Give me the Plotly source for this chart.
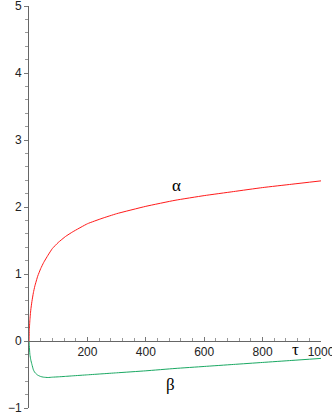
import plotly.graph_objects as go

# values
tau = [0, 1, 3, 6, 10, 15, 20, 30, 40, 50, 65, 80, 100, 125, 150, 200, 250,
       300, 400, 500, 600, 700, 800, 900, 1000]
alpha = [0, 0.16, 0.31, 0.46, 0.59, 0.72, 0.82, 0.97, 1.08, 1.17, 1.28, 1.38,
         1.47, 1.56, 1.63, 1.75, 1.83, 1.90, 2.01, 2.10, 2.17, 2.23, 2.29, 2.34, 2.39]
beta = [0, -0.07, -0.20, -0.28, -0.35, -0.43, -0.47, -0.51, -0.53, -0.54,
        -0.545, -0.54, -0.535, -0.528, -0.52, -0.505, -0.49, -0.475, -0.445,
        -0.41, -0.38, -0.35, -0.32, -0.29, -0.26]

x_ticks = [200, 400, 600, 800, 1000]
y_ticks = [-1, 0, 1, 2, 3, 4, 5]

fig = go.Figure()
fig.add_trace(go.Scatter(x=tau, y=alpha, mode="lines", name="alpha",
                         line=dict(color="#ff1a1a", width=1, shape="spline", smoothing=0.4)))
fig.add_trace(go.Scatter(x=tau, y=beta, mode="lines", name="beta",
                         line=dict(color="#19a862", width=1, shape="spline", smoothing=0.4)))

serif = dict(family="Liberation Serif, DejaVu Serif", size=17, color="black")
for txt, xx, yy in [("α", 505, 2.32), ("β", 485, -0.65), ("τ", 911, -0.13)]:
    fig.add_annotation(x=xx, y=yy, text=txt, showarrow=False, font=serif)

tickfont = dict(family="Liberation Sans, Arial", size=12, color="#222")
fig.update_layout(
    width=332, height=413,
    margin=dict(l=29, r=11, t=6, b=5),
    plot_bgcolor="white", paper_bgcolor="white",
    showlegend=False,
    xaxis=dict(
        range=[0, 1000], anchor="free", position=1 / 6,
        tickvals=x_ticks, ticks="inside", ticklen=4, tickcolor="#777",
        minor=dict(dtick=40, ticks="inside", ticklen=3, tickcolor="#999"),
        showline=True, linecolor="#666", linewidth=1,
        showgrid=False, zeroline=False, tickfont=tickfont, automargin=False,
        ticklabeloverflow="allow",
    ),
    yaxis=dict(
        range=[-1, 5], tickvals=y_ticks, ticktext=["\u22121", "0", "1", "2", "3", "4", "5"],
        ticks="outside", ticklen=4, tickcolor="#777",
        minor=dict(dtick=0.2, ticks="outside", ticklen=3, tickcolor="#999"),
        showline=True, linecolor="#666", linewidth=1,
        showgrid=False, zeroline=False, tickfont=tickfont, automargin=False,
        ticklabeloverflow="allow",
    ),
)

# drop the default page margin so the figure sits at the window corner
fig.write_html("out.html", config={"displayModeBar": False},
               post_script="document.body.style.margin='0';")
